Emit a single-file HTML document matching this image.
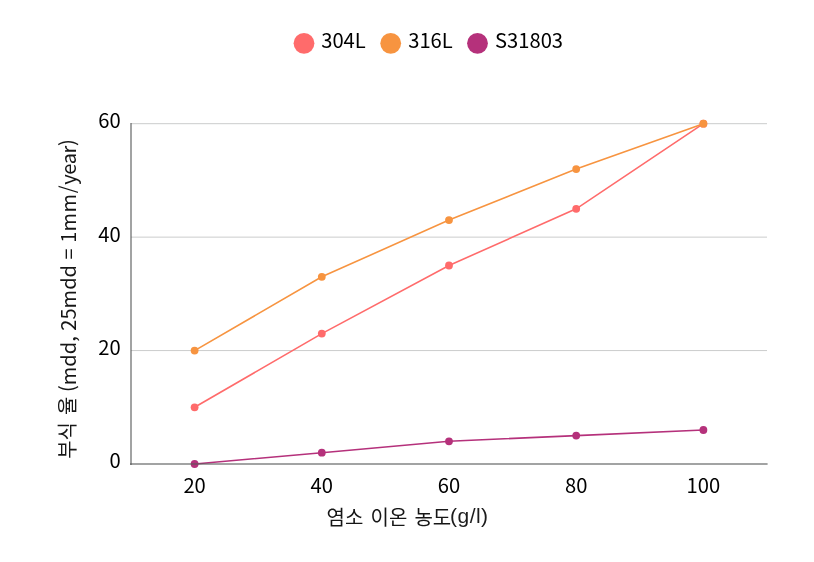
<!DOCTYPE html>
<html lang="ko"><head><meta charset="utf-8"><title>chart</title>
<style>
html,body{margin:0;padding:0;background:#fff;}
body{width:814px;height:562px;overflow:hidden;position:relative;}
svg{position:absolute;left:0;top:0;display:block;}
.t{font-family:"Noto Sans CJK KR","Liberation Sans",sans-serif;font-size:20.2px;fill:#000;}
.k{font-family:"Noto Sans CJK KR","NanumGothic",sans-serif;font-size:20px;word-spacing:1.5px;fill:#161616;}
.b{font-family:"Liberation Sans","Noto Sans CJK KR",sans-serif;font-size:21px;fill:#1c1c1c;}
.a{font-family:"Noto Sans CJK KR","Liberation Sans",sans-serif;font-size:20.05px;fill:#161616;}
</style></head><body>
<svg width="814" height="562" viewBox="0 0 814 562">
<rect width="814" height="562" fill="#fff"/>
<line x1="131.0" x2="767.0" y1="350.57" y2="350.57" stroke="#cbcccc" stroke-width="1"/>
<line x1="131.0" x2="767.0" y1="237.13" y2="237.13" stroke="#cbcccc" stroke-width="1"/>
<line x1="131.0" x2="767.0" y1="123.70" y2="123.70" stroke="#cbcccc" stroke-width="1"/>
<polyline points="194.6,407.3 321.8,333.6 449.0,265.5 576.2,208.8 703.4,123.7" fill="none" stroke="#ff6b6b" stroke-width="1.6"/>
<circle cx="194.6" cy="407.3" r="3.9" fill="#ff6b6b"/>
<circle cx="321.8" cy="333.6" r="3.9" fill="#ff6b6b"/>
<circle cx="449.0" cy="265.5" r="3.9" fill="#ff6b6b"/>
<circle cx="576.2" cy="208.8" r="3.9" fill="#ff6b6b"/>
<circle cx="703.4" cy="123.7" r="3.9" fill="#ff6b6b"/>
<polyline points="194.6,350.6 321.8,276.8 449.0,220.1 576.2,169.1 703.4,123.7" fill="none" stroke="#f79440" stroke-width="1.6"/>
<circle cx="194.6" cy="350.6" r="3.9" fill="#f79440"/>
<circle cx="321.8" cy="276.8" r="3.9" fill="#f79440"/>
<circle cx="449.0" cy="220.1" r="3.9" fill="#f79440"/>
<circle cx="576.2" cy="169.1" r="3.9" fill="#f79440"/>
<circle cx="703.4" cy="123.7" r="3.9" fill="#f79440"/>
<polyline points="194.6,464.0 321.8,452.7 449.0,441.3 576.2,435.6 703.4,430.0" fill="none" stroke="#b5317b" stroke-width="1.6"/>
<circle cx="194.6" cy="464.0" r="3.9" fill="#b5317b"/>
<circle cx="321.8" cy="452.7" r="3.9" fill="#b5317b"/>
<circle cx="449.0" cy="441.3" r="3.9" fill="#b5317b"/>
<circle cx="576.2" cy="435.6" r="3.9" fill="#b5317b"/>
<circle cx="703.4" cy="430.0" r="3.9" fill="#b5317b"/>
<line x1="131" x2="131" y1="123" y2="465.00" stroke="#565758" stroke-opacity="0.55" stroke-width="2"/>
<line x1="130" x2="767.6" y1="464.00" y2="464.00" stroke="#565758" stroke-opacity="0.55" stroke-width="2"/>
<text class="t" x="120.6" y="468.2" text-anchor="end">0</text>
<text class="t" x="120.6" y="354.7" text-anchor="end">20</text>
<text class="t" x="120.6" y="241.6" text-anchor="end">40</text>
<text class="t" x="120.6" y="127.6" text-anchor="end">60</text>
<text class="t" x="194.6" y="493.3" text-anchor="middle">20</text>
<text class="t" x="321.8" y="493.3" text-anchor="middle">40</text>
<text class="t" x="449.0" y="493.3" text-anchor="middle">60</text>
<text class="t" x="576.2" y="493.3" text-anchor="middle">80</text>
<text class="t" x="703.4" y="493.3" text-anchor="middle">100</text>
<circle cx="304" cy="43.3" r="10.4" fill="#ff6b6b"/>
<text class="t" x="321.2" y="47.8">304L</text>
<circle cx="390.7" cy="43.3" r="10.4" fill="#f79440"/>
<text class="t" x="408.2" y="47.8">316L</text>
<circle cx="477.5" cy="43.3" r="10.4" fill="#b5317b"/>
<text class="t" x="495" y="47.8">S31803</text>
<text><tspan class="k" x="326.6" y="524.8">염소 이온 농도</tspan><tspan class="b" x="450.1" y="523.2" letter-spacing="0.45">(g/l)</tspan></text>
<g transform="translate(74.6,0) rotate(-90)">
<text><tspan class="k" x="-458.8" y="0">부식 율 </tspan><tspan class="a" x="-392" y="0.9">(mdd, 25mdd = 1</tspan><tspan class="a" letter-spacing="0.6">mm/</tspan><tspan class="a" letter-spacing="-0.35">year)</tspan></text>
</g>
</svg>
</body></html>
